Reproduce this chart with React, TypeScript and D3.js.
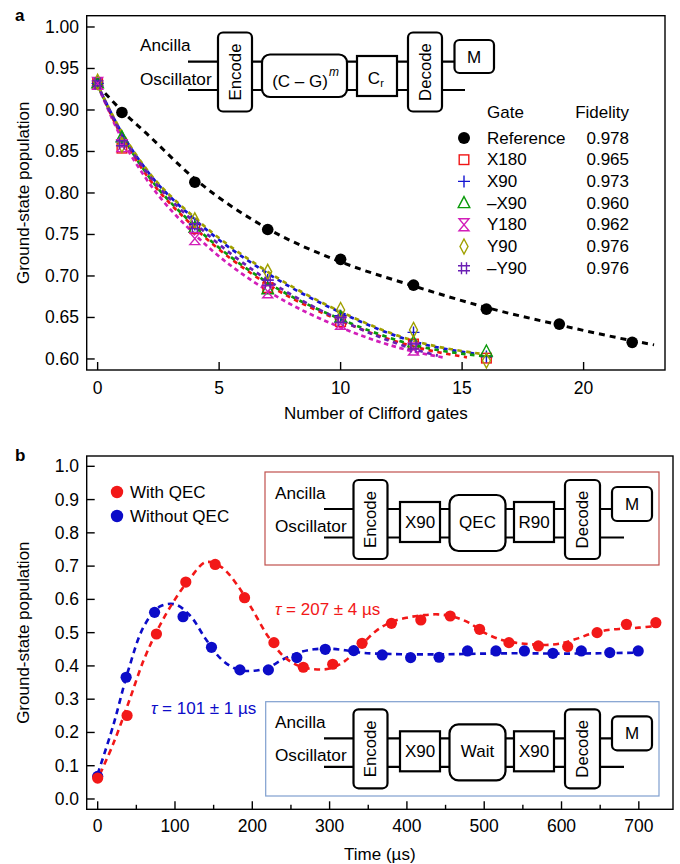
import React from "react";
import * as d3 from "d3";

// ---------- Panel a data ----------
const refM = [0, 1, 4, 7, 10, 13, 16, 19, 22];
const refY = [0.932, 0.897, 0.813, 0.756, 0.72, 0.689, 0.66, 0.642, 0.62];
const refFitM = [0, 1, 2, 4, 7, 10, 13, 16, 19, 22, 22.9];
const refFitY = [0.93, 0.899, 0.872, 0.817, 0.757, 0.717, 0.688, 0.662, 0.641, 0.622, 0.617];

const gateNames = ["X180", "X90", "–X90", "Y180", "Y90", "–Y90"];
const gateFidelity = ["0.965", "0.973", "0.960", "0.962", "0.976", "0.976"];
const refFidelity = "0.978";

const x180M = [0, 1, 4, 7, 10, 13, 16];
const x180Y = [0.932, 0.854, 0.757, 0.686, 0.645, 0.618, 0.601];
const x90M = [0, 1, 4, 7, 10, 13, 16];
const x90Y = [0.932, 0.862, 0.762, 0.695, 0.652, 0.632, 0.603];
const mx90M = [0, 1, 4, 7, 10, 13, 16];
const mx90Y = [0.932, 0.867, 0.758, 0.684, 0.65, 0.62, 0.609];
const y180M = [0, 1, 4, 7, 10, 13];
const y180Y = [0.932, 0.857, 0.745, 0.681, 0.643, 0.612];
const y90M = [0, 1, 4, 7, 10, 13, 16];
const y90Y = [0.934, 0.858, 0.767, 0.705, 0.659, 0.635, 0.598];
const my90M = [0, 1, 4, 7, 10, 13];
const my90Y = [0.932, 0.86, 0.76, 0.692, 0.647, 0.615];

const x180FitM = [0, 1, 2, 4, 7, 10, 13, 15.2];
const x180FitY = [0.93, 0.868, 0.822, 0.758, 0.69, 0.646, 0.615, 0.602];
const x90FitM = [0, 1, 2, 4, 7, 10, 13, 15.6];
const x90FitY = [0.93, 0.872, 0.828, 0.768, 0.703, 0.656, 0.621, 0.606];
const mx90FitM = [0, 1, 2, 4, 7, 10, 13, 16.4];
const mx90FitY = [0.93, 0.87, 0.824, 0.76, 0.692, 0.648, 0.617, 0.602];
const y180FitM = [0, 1, 2, 4, 7, 10, 13, 14.2];
const y180FitY = [0.93, 0.865, 0.817, 0.75, 0.682, 0.638, 0.609, 0.602];
const y90FitM = [0, 1, 2, 4, 7, 10, 13, 15.8];
const y90FitY = [0.93, 0.873, 0.829, 0.77, 0.705, 0.657, 0.622, 0.606];
const my90FitM = [0, 1, 2, 4, 7, 10, 13, 14.0];
const my90FitY = [0.93, 0.87, 0.826, 0.764, 0.695, 0.647, 0.612, 0.604];

const xTicksA = [0, 5, 10, 15, 20];
const yTicksA = [0.6, 0.65, 0.7, 0.75, 0.8, 0.85, 0.9, 0.95, 1.0];

// ---------- Panel b data ----------
const qecT = [0, 38, 76, 114, 152, 190, 228, 266, 304, 342, 380, 418, 456, 494, 532, 570, 608, 646, 684, 722];
const qecV = [0.063, 0.251, 0.496, 0.652, 0.705, 0.605, 0.47, 0.396, 0.405, 0.468, 0.528, 0.538, 0.55, 0.51, 0.47, 0.46, 0.458, 0.5, 0.525, 0.53];
const noQecT = [0, 36.8, 73.6, 110.4, 147.2, 184, 220.8, 257.6, 294.4, 331.2, 368, 404.8, 441.6, 478.4, 515.2, 552, 588.8, 625.6, 662.4, 699.2];
const noQecV = [0.068, 0.366, 0.561, 0.548, 0.456, 0.388, 0.388, 0.425, 0.45, 0.446, 0.433, 0.425, 0.426, 0.445, 0.445, 0.445, 0.438, 0.445, 0.44, 0.445];

const qecFitT = [3, 20, 40, 60, 80, 100, 120, 140, 160, 180, 200, 220, 240, 260, 280, 300, 320, 340, 360, 380, 400, 420, 440, 460, 480, 500, 520, 540, 560, 580, 600, 620, 640, 660, 680, 700, 722];
const qecFitV = [0.075, 0.165, 0.29, 0.42, 0.52, 0.6, 0.665, 0.712, 0.697, 0.645, 0.57, 0.49, 0.43, 0.4, 0.39, 0.392, 0.415, 0.46, 0.505, 0.532, 0.545, 0.552, 0.555, 0.548, 0.53, 0.5, 0.48, 0.47, 0.465, 0.463, 0.468, 0.482, 0.498, 0.508, 0.512, 0.515, 0.52];
const noQecFitT = [0, 20, 40, 60, 80, 100, 120, 140, 160, 180, 200, 220, 240, 260, 280, 300, 320, 340, 360, 400, 450, 500, 550, 600, 650, 700];
const noQecFitV = [0.075, 0.22, 0.39, 0.52, 0.578, 0.585, 0.55, 0.48, 0.42, 0.39, 0.385, 0.395, 0.42, 0.44, 0.45, 0.452, 0.447, 0.44, 0.437, 0.435, 0.435, 0.437, 0.438, 0.437, 0.438, 0.44];

const xTicksB = [0, 100, 200, 300, 400, 500, 600, 700];
const xMinorB = [50, 150, 250, 350, 450, 550, 650];
const yTicksB = [0, 0.1, 0.2, 0.3, 0.4, 0.5, 0.6, 0.7, 0.8, 0.9, 1.0];

// ---------- styling ----------
const FONT = "'Liberation Sans', Arial, Helvetica, sans-serif";
const TICK = 17.5;
const LBL = 17;
const C = {
  red: "#f01414",
  blue: "#1414d2",
  green: "#0a9a0a",
  magenta: "#d21eb9",
  olive: "#a0a000",
  purple: "#6a1eb4",
  qec: "#f21818",
  noqec: "#0c0cc8",
};

// scales
const axA = { l: 86.7, r: 665, t: 15.7, b: 370 };
const xA = d3.scaleLinear().domain([-0.45, 23.35]).range([axA.l, axA.r]);
const yA = d3.scaleLinear().domain([0.5867, 1.0136]).range([axA.b, axA.t]);
const axB = { l: 86.7, r: 673, t: 456, b: 809.3 };
const xB = d3.scaleLinear().domain([-14.2, 744.2]).range([axB.l, axB.r]);
const yB = d3.scaleLinear().domain([-0.031, 1.031]).range([axB.b, axB.t]);

type Sym = "square" | "plus" | "tri" | "bowtie" | "diamond" | "hash";

function Marker({ type, x, y, color }: { type: Sym; x: number; y: number; color: string }) {
  const sw = 1.4;
  const common = { fill: "none", stroke: color, strokeWidth: sw } as any;
  const t = `translate(${x},${y})`;
  switch (type) {
    case "square":
      return <rect transform={t} x={-4.8} y={-4.8} width={9.6} height={9.6} {...common} />;
    case "plus":
      return <path transform={t} d="M-6,0H6M0,-6V6" {...common} />;
    case "tri":
      return <path transform={t} d="M0,-6.5L5.8,4.5L-5.8,4.5Z" {...common} />;
    case "bowtie":
      return <path transform={t} d="M-5,-6L5,-6L-5,6L5,6Z" {...common} />;
    case "diamond":
      return <path transform={t} d="M0,-7.5L4,0L0,7.5L-4,0Z" {...common} />;
    case "hash":
      return <path transform={t} d="M-2.5,-6V6M2.5,-6V6M-6,-2.5H6M-6,2.5H6" {...common} />;
  }
  return null;
}

const gates = [
  { name: gateNames[0], fid: gateFidelity[0], m: x180M, y: x180Y, fm: x180FitM, fy: x180FitY, color: C.red, sym: "square" as Sym, dash: "4.5,4.5", off: 0 },
  { name: gateNames[1], fid: gateFidelity[1], m: x90M, y: x90Y, fm: x90FitM, fy: x90FitY, color: C.blue, sym: "plus" as Sym, dash: "4.5,4.5", off: 0 },
  { name: gateNames[2], fid: gateFidelity[2], m: mx90M, y: mx90Y, fm: mx90FitM, fy: mx90FitY, color: C.green, sym: "tri" as Sym, dash: "4.5,4.5", off: 4.5 },
  { name: gateNames[3], fid: gateFidelity[3], m: y180M, y: y180Y, fm: y180FitM, fy: y180FitY, color: C.magenta, sym: "bowtie" as Sym, dash: "4.5,3.5", off: 0 },
  { name: gateNames[4], fid: gateFidelity[4], m: y90M, y: y90Y, fm: y90FitM, fy: y90FitY, color: C.olive, sym: "diamond" as Sym, dash: "4.5,4.5", off: 4.5 },
  { name: gateNames[5], fid: gateFidelity[5], m: my90M, y: my90Y, fm: my90FitM, fy: my90FitY, color: C.purple, sym: "hash" as Sym, dash: "4.5,4.5", off: 2.2 },
];

const lineA = (ms: number[], ys: number[]) =>
  d3
    .line<number>()
    .x((_, i) => xA(ms[i]))
    .y((v) => yA(v))
    .curve(d3.curveMonotoneX)(ys) || "";

const lineB = (ts: number[], vs: number[]) =>
  d3
    .line<number>()
    .x((_, i) => xB(ts[i]))
    .y((v) => yB(v))
    .curve(d3.curveCatmullRom.alpha(0.5))(vs) || "";

function Box({ x, y, w, h, rx = 0 }: { x: number; y: number; w: number; h: number; rx?: number }) {
  return <rect x={x} y={y} width={w} height={h} rx={rx} ry={rx} fill="#fff" stroke="#000" strokeWidth={2.2} />;
}

function VText({ cx, cy, text }: { cx: number; cy: number; text: string }) {
  return (
    <text
      transform={`translate(${cx},${cy}) rotate(-90)`}
      textAnchor="middle"
      dominantBaseline="central"
      fontSize={16.8}
      fontFamily={FONT}
    >
      {text}
    </text>
  );
}

function CText({ cx, cy, children, size = 17 }: any) {
  return (
    <text x={cx} y={cy} textAnchor="middle" dominantBaseline="central" fontSize={size} fontFamily={FONT}>
      {children}
    </text>
  );
}

function CircuitB({ oy, mid }: { oy: number; mid: "QEC" | "Wait" }) {
  const y1 = oy;
  const y2 = oy + 28.5;
  return (
    <g>
      <text x={275} y={y1 - 10} fontSize={17.2} fontFamily={FONT}>Ancilla</text>
      <text x={275} y={y2 - 6} fontSize={17.2} fontFamily={FONT}>Oscillator</text>
      <line x1={324} x2={613} y1={y1} y2={y1} stroke="#000" strokeWidth={2.2} />
      <line x1={324} x2={624} y1={y2} y2={y2} stroke="#000" strokeWidth={2.2} />
      <Box x={353.5} y={y1 - 29} w={34} h={79} rx={5} />
      <VText cx={370.5} cy={y1 + 10.5} text="Encode" />
      <Box x={400} y={y1 - 7} w={40} h={40} />
      <CText cx={420} cy={y1 + 13.5}>X90</CText>
      <Box x={449.5} y={y1 - 14} w={56} h={56} rx={9} />
      <CText cx={477.5} cy={y1 + 13}>{mid}</CText>
      <Box x={514} y={y1 - 7} w={40} h={40} />
      <CText cx={534} cy={y1 + 13.5}>{mid === "QEC" ? "R90" : "X90"}</CText>
      <Box x={565} y={y1 - 29} w={35} h={79} rx={5} />
      <VText cx={582.5} cy={y1 + 10.5} text="Decode" />
      <Box x={612} y={y1 - 22} w={40} h={34} rx={5} />
      <CText cx={632} cy={y1 - 5}>M</CText>
    </g>
  );
}

export default function App() {
  const tickLen = 8;
  return (
    <div style={{ position: "absolute", left: 0, top: 0 }}>
      <svg width={680} height={864} style={{ display: "block", background: "#fff" }} fontFamily={FONT}>
        <rect x={0} y={0} width={680} height={864} fill="#fff" />
        {/* ================= Panel a ================= */}
        <text x={15} y={21} fontSize={17} fontWeight="bold">a</text>

        {/* circuit a */}
        <g>
          <text x={140} y={51} fontSize={17.2}>Ancilla</text>
          <text x={140} y={85} fontSize={17.2}>Oscillator</text>
          <line x1={188} x2={455} y1={61.7} y2={61.7} stroke="#000" strokeWidth={2.2} />
          <line x1={188} x2={465} y1={90} y2={90} stroke="#000" strokeWidth={2.2} />
          <Box x={218} y={32.5} w={34} h={79} rx={5} />
          <VText cx={235} cy={72} text="Encode" />
          <Box x={262} y={54.5} w={85} h={42.5} rx={8} />
          <text x={300} y={81} textAnchor="middle" dominantBaseline="central" fontSize={17}>
            (C – G)
          </text>
          <text x={334} y={72} textAnchor="middle" dominantBaseline="central" fontSize={12} fontStyle="italic">
            m
          </text>
          <Box x={357} y={56} w={40} h={40} />
          <text x={374} y={78} textAnchor="middle" dominantBaseline="central" fontSize={17}>C</text>
          <text x={382} y={83} textAnchor="middle" dominantBaseline="central" fontSize={11}>r</text>
          <Box x={408} y={32.5} w={34} h={79} rx={5} />
          <VText cx={425} cy={72} text="Decode" />
          <Box x={454.5} y={40} w={39.5} h={33} rx={5} />
          <CText cx={474} cy={57}>M</CText>
        </g>

        {/* fit curves */}
        <path d={lineA(refFitM, refFitY)} fill="none" stroke="#000" strokeWidth={3} strokeDasharray="6,5" />
        {gates.map((g) => (
          <path
            key={g.name + "fit"}
            d={lineA(g.fm, g.fy)}
            fill="none"
            stroke={g.color}
            strokeWidth={2.7}
            strokeDasharray={g.dash}
            strokeDashoffset={g.off}
          />
        ))}
        {/* markers */}
        {refM.map((m, i) => (
          <circle key={"r" + i} cx={xA(m)} cy={yA(refY[i])} r={5.8} fill="#000" />
        ))}
        {gates.map((g) =>
          g.m.map((m, i) => <Marker key={g.name + i} type={g.sym} x={xA(m)} y={yA(g.y[i])} color={g.color} />)
        )}

        {/* legend a */}
        <g fontSize={LBL}>
          <text x={487} y={118}>Gate</text>
          <text x={629} y={118} textAnchor="end">Fidelity</text>
          <circle cx={464} cy={138} r={6} fill="#000" />
          <text x={487} y={138} dominantBaseline="central">Reference</text>
          <text x={629} y={138} dominantBaseline="central" textAnchor="end">{refFidelity}</text>
          {gates.map((g, i) => {
            const cy = 138 + (i + 1) * 21.7;
            return (
              <g key={"lg" + g.name}>
                <Marker type={g.sym} x={464} y={cy} color={g.color} />
                <text x={487} y={cy} dominantBaseline="central">{g.name}</text>
                <text x={629} y={cy} dominantBaseline="central" textAnchor="end">{g.fid}</text>
              </g>
            );
          })}
        </g>

        {/* axes a */}
        <rect x={axA.l} y={axA.t} width={axA.r - axA.l} height={axA.b - axA.t} fill="none" stroke="#000" strokeWidth={1.4} />
        {xTicksA.map((t) => (
          <g key={"xa" + t}>
            <line x1={xA(t)} x2={xA(t)} y1={axA.b} y2={axA.b - tickLen} stroke="#000" strokeWidth={1.4} />
            <text x={xA(t)} y={388} textAnchor="middle" dominantBaseline="central" fontSize={TICK}>{t}</text>
          </g>
        ))}
        {yTicksA.map((t) => (
          <g key={"ya" + t}>
            <line x1={axA.l} x2={axA.l + tickLen} y1={yA(t)} y2={yA(t)} stroke="#000" strokeWidth={1.4} />
            <text x={79} y={yA(t)} textAnchor="end" dominantBaseline="central" fontSize={TICK}>{t.toFixed(2)}</text>
          </g>
        ))}
        <text transform={`translate(23,${(axA.t + axA.b) / 2}) rotate(-90)`} textAnchor="middle" dominantBaseline="central" fontSize={LBL}>
          Ground-state population
        </text>
        <text x={(axA.l + axA.r) / 2} y={413} textAnchor="middle" dominantBaseline="central" fontSize={LBL}>
          Number of Clifford gates
        </text>

        {/* ================= Panel b ================= */}
        <text x={15} y={461} fontSize={17} fontWeight="bold">b</text>

        {/* insets */}
        <rect x={265} y={472} width={394} height={93} fill="none" stroke="#c0504d" strokeWidth={1.2} />
        <CircuitB oy={509} mid="QEC" />
        <rect x={265.7} y={701.7} width={393.3} height={94.3} fill="none" stroke="#7f9fcf" strokeWidth={1.2} />
        <CircuitB oy={738.3} mid="Wait" />

        {/* legend b */}
        <circle cx={117} cy={492} r={6.2} fill={C.qec} />
        <text x={130} y={492} dominantBaseline="central" fontSize={LBL}>With QEC</text>
        <circle cx={117} cy={516} r={6.2} fill={C.noqec} />
        <text x={130} y={516} dominantBaseline="central" fontSize={LBL}>Without QEC</text>

        {/* tau labels */}
        <text x={275} y={609} dominantBaseline="central" fontSize={LBL} fill={C.qec}>
          <tspan fontStyle="italic">τ</tspan> = 207 ± 4 µs
        </text>
        <text x={151} y={708} dominantBaseline="central" fontSize={LBL} fill={C.noqec}>
          <tspan fontStyle="italic">τ</tspan> = 101 ± 1 µs
        </text>

        {/* fits b */}
        <path d={lineB(noQecFitT, noQecFitV)} fill="none" stroke={C.noqec} strokeWidth={2.6} strokeDasharray="6,4.5" />
        <path d={lineB(qecFitT, qecFitV)} fill="none" stroke={C.qec} strokeWidth={2.6} strokeDasharray="6,4.5" />
        {/* points b */}
        {noQecT.map((t, i) => (
          <circle key={"nb" + i} cx={xB(t)} cy={yB(noQecV[i])} r={5.6} fill={C.noqec} />
        ))}
        {qecT.map((t, i) => (
          <circle key={"qb" + i} cx={xB(t)} cy={yB(qecV[i])} r={5.6} fill={C.qec} />
        ))}

        {/* axes b */}
        <rect x={axB.l} y={axB.t} width={axB.r - axB.l} height={axB.b - axB.t} fill="none" stroke="#000" strokeWidth={1.4} />
        {xTicksB.map((t) => (
          <g key={"xb" + t}>
            <line x1={xB(t)} x2={xB(t)} y1={axB.b} y2={axB.b - tickLen} stroke="#000" strokeWidth={1.4} />
            <text x={xB(t)} y={826} textAnchor="middle" dominantBaseline="central" fontSize={TICK}>{t}</text>
          </g>
        ))}
        {xMinorB.map((t) => (
          <line key={"xbm" + t} x1={xB(t)} x2={xB(t)} y1={axB.b} y2={axB.b - 4.5} stroke="#000" strokeWidth={1.4} />
        ))}
        {yTicksB.map((t) => (
          <g key={"yb" + t}>
            <line x1={axB.l} x2={axB.l + tickLen} y1={yB(t)} y2={yB(t)} stroke="#000" strokeWidth={1.4} />
            <text x={79} y={yB(t)} textAnchor="end" dominantBaseline="central" fontSize={TICK}>{t.toFixed(1)}</text>
          </g>
        ))}
        <text transform={`translate(23,${(axB.t + axB.b) / 2}) rotate(-90)`} textAnchor="middle" dominantBaseline="central" fontSize={LBL}>
          Ground-state population
        </text>
        <text x={(axB.l + axB.r) / 2} y={854} textAnchor="middle" dominantBaseline="central" fontSize={LBL}>
          Time (µs)
        </text>
      </svg>
    </div>
  );
}
